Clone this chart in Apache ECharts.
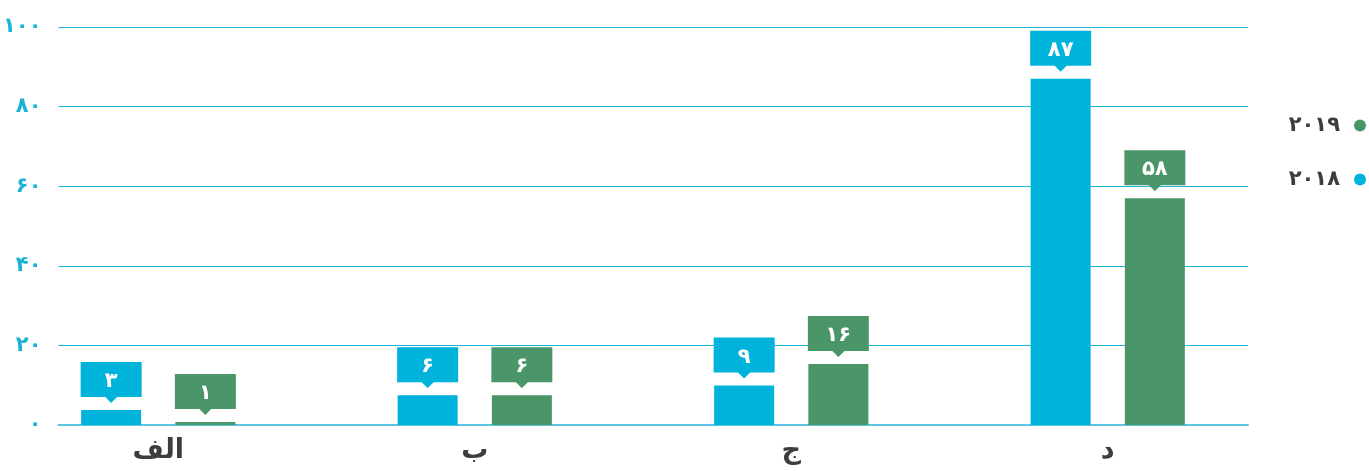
<!DOCTYPE html>
<html>
<head>
<meta charset="utf-8">
<script src="https://cdn.jsdelivr.net/npm/echarts@6/dist/echarts.min.js"></script>
<style>
html,body{margin:0;padding:0;background:#fff;}
#chart{width:1369px;height:471px;}
</style>
</head>
<body>
<div id="chart"></div>
<script>
const categories = ['الف', 'ب', 'ج', 'د'];
const seriesNames = ['۲۰۱۸', '۲۰۱۹'];
const values2018 = [3.8, 7.5, 9.9, 87];
const values2019 = [0.75, 7.5, 15.3, 57];
const labels2018 = ['۳', '۶', '۹', '۸۷'];
const labels2019 = ['۱', '۶', '۱۶', '۵۸'];
const yTickLabels = ['۰', '۲۰', '۴۰', '۶۰', '۸۰', '۱۰۰'];

const BLUE = '#00b3db';
const GREEN = '#4b9668';
const FONT = '"DejaVu Sans", sans-serif';

function arrowUri(color) {
  const svg = '<svg xmlns="http://www.w3.org/2000/svg" width="16" height="8"><polygon points="0,0 16,0 8,8" fill="' + color + '"/></svg>';
  return 'data:image/svg+xml;charset=utf-8,' + encodeURIComponent(svg);
}

function barSeries(name, values, labels, color) {
  return {
    name: name,
    type: 'bar',
    xAxisIndex: 1,
    yAxisIndex: 1,
    data: values,
    barWidth: 60,
    barGap: '57%',
    itemStyle: { color: color },
    label: {
      show: true,
      position: 'top',
      distance: 7,
      formatter: p => '{box|' + labels[p.dataIndex] + '}\n{arr| }',
      rich: {
        box: {
          backgroundColor: color,
          width: 61,
          height: 31,
          lineHeight: 31,
          padding: [4, 0, 0, 0],
          align: 'center',
          verticalAlign: 'middle',
          color: '#fff',
          fontSize: 21,
          fontWeight: 'bold',
          fontFamily: FONT
        },
        arr: {
          width: 16,
          height: 8,
          lineHeight: 8,
          fontSize: 1,
          align: 'center',
          backgroundColor: { image: arrowUri(color) }
        }
      }
    }
  };
}

const chart = echarts.init(document.getElementById('chart'), null, { renderer: 'canvas' });
chart.setOption({
  animation: false,
  backgroundColor: '#fff',
  textStyle: { fontFamily: FONT },
  legend: {
    data: [seriesNames[1], seriesNames[0]],
    orient: 'vertical',
    right: 3,
    top: 115,
    padding: 0,
    align: 'right',
    icon: 'circle',
    itemWidth: 12,
    itemHeight: 12,
    itemGap: 33,
    textStyle: {
      fontSize: 21,
      lineHeight: 20,
      fontWeight: 'bold',
      color: '#3d3d3d',
      fontFamily: FONT,
      padding: [0, 9, 0, 0]
    }
  },
  grid: [
    { left: 57, right: 121, top: 27, bottom: 46 },
    { left: -3, right: 103, top: 27, bottom: 46 }
  ],
  xAxis: [
    {
      gridIndex: 0, type: 'value', min: 0, max: 1,
      axisLine: { show: true, lineStyle: { color: '#5cc6e2', width: 2 } },
      axisTick: { show: false }, axisLabel: { show: false }, splitLine: { show: false }
    },
    {
      gridIndex: 1, type: 'category', data: categories,
      axisLine: { show: false }, axisTick: { show: false },
      axisLabel: { fontSize: 27, fontWeight: 'bold', color: '#3d3d3d', margin: 12, fontFamily: FONT }
    }
  ],
  yAxis: [
    {
      gridIndex: 0, type: 'value', min: 0, max: 100, interval: 20,
      axisLine: { show: false }, axisTick: { show: false },
      splitLine: { show: true, lineStyle: { color: '#1fb4d9', width: 1 } },
      axisLabel: {
        margin: 17, fontSize: 21, fontWeight: 'bold', color: '#1ab3d8', fontFamily: FONT,
        formatter: v => yTickLabels[Math.round(v / 20)]
      }
    },
    { gridIndex: 1, type: 'value', min: 0, max: 100, show: false }
  ],
  series: [
    barSeries(seriesNames[0], values2018, labels2018, BLUE),
    barSeries(seriesNames[1], values2019, labels2019, GREEN)
  ]
});
</script>
</body>
</html>
